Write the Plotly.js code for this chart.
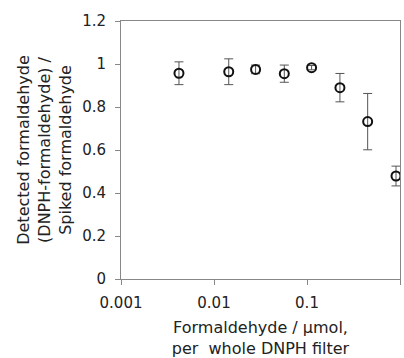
<!DOCTYPE html>
<html>
<head>
<meta charset="utf-8">
<script src="https://cdn.plot.ly/plotly-3.0.1.min.js"></script>
<style>html,body{margin:0;padding:0;background:#fff;}#chart{width:404px;height:358px;}</style>
</head>
<body>
<div id="chart"></div>
<script>
const formaldehydeUmol = [0.0042, 0.0144, 0.028, 0.057, 0.112, 0.226, 0.449, 0.906];
const recoveryRatio = [0.957, 0.964, 0.975, 0.955, 0.983, 0.890, 0.732, 0.479];
const recoveryError = [0.053, 0.060, 0.020, 0.040, 0.010, 0.066, 0.131, 0.046];
const xTickValues = [0.001, 0.01, 0.1, 1];
const xTickLabels = ["0.001", "0.01", "0.1", "1"];
const yTickValues = [0, 0.2, 0.4, 0.6, 0.8, 1, 1.2];
const yTickLabels = ["0", "0.2", "0.4", "0.6", "0.8", "1", "1.2"];

const font = "DejaVu Sans, Arial, sans-serif";

const trace = {
  x: formaldehydeUmol,
  y: recoveryRatio,
  type: "scatter",
  mode: "markers",
  marker: {symbol: "circle-open", size: 9, color: "#111", line: {width: 2, color: "#111"}},
  error_y: {type: "data", array: recoveryError, visible: true, color: "#555", thickness: 1, width: 4.5},
  showlegend: false,
  hoverinfo: "x+y"
};

const layout = {
  width: 404, height: 358,
  margin: {l: 121, r: 4, t: 21, b: 79},
  paper_bgcolor: "#fff", plot_bgcolor: "#fff",
  font: {family: font, size: 15, color: "#222"},
  xaxis: {
    type: "log",
    range: [-3, 0],
    tickvals: xTickValues, ticktext: xTickLabels,
    ticks: "outside", ticklen: 5, tickcolor: "#888", tickwidth: 1,
    showline: true, linecolor: "#888", linewidth: 1, mirror: true,
    showgrid: false, zeroline: false,
    tickfont: {family: font, size: 15, color: "#222"},
    ticklabelstandoff: 5,
    title: {text: "Formaldehyde / µmol,<br>per  whole DNPH filter", font: {family: font, size: 16, color: "#222"}, standoff: 16}
  },
  yaxis: {
    range: [0, 1.2],
    tickvals: yTickValues, ticktext: yTickLabels,
    ticks: "outside", ticklen: 5, tickcolor: "#888", tickwidth: 1,
    showline: true, linecolor: "#888", linewidth: 1, mirror: true,
    showgrid: false, zeroline: false,
    tickfont: {family: font, size: 15, color: "#222"},
    ticklabelstandoff: 6,
    title: {text: "Detected formaldehyde<br>(DNPH-formaldehyde) /<br>Spiked formaldehyde", font: {family: font, size: 16, color: "#222"}, standoff: 6}
  }
};

Plotly.newPlot("chart", [trace], layout, {displayModeBar: false, staticPlot: true});
</script>
</body>
</html>
